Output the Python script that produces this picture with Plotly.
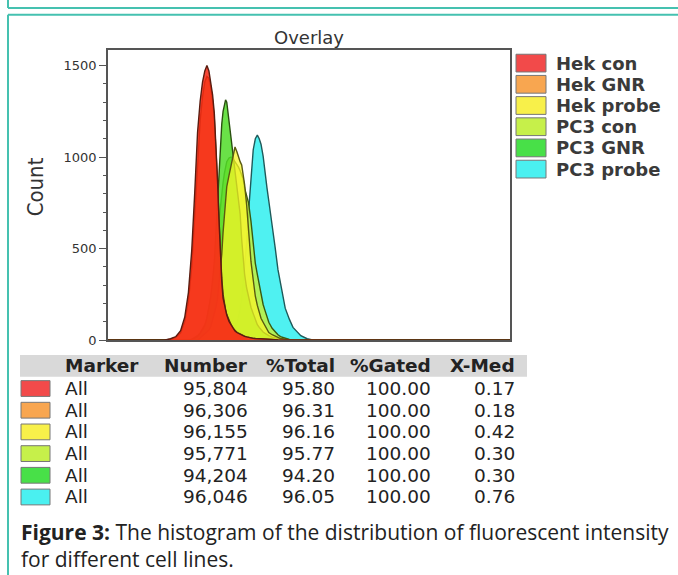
import plotly.graph_objects as go

# ---------------- data ----------------
intensity = [0.01, 0.05, 0.06, 0.07, 0.08, 0.09, 0.10, 0.11, 0.12, 0.13,
             0.14, 0.15, 0.16, 0.17, 0.18, 0.19, 0.20, 0.21, 0.22, 0.23,
             0.24, 0.25, 0.26, 0.27, 0.28, 0.29, 0.30, 0.32, 0.34, 0.36,
             0.38, 0.40, 0.42, 0.44, 0.46, 0.48, 0.50, 0.53, 0.56, 0.60,
             0.64, 0.68, 0.72, 0.76, 0.80, 0.85, 0.90, 0.95, 1.0, 1.1,
             1.2, 1.3, 1.4, 1.6, 1.8, 2.0, 2.5, 3.0, 3.5, 1000]

hek_con = [0, 0, 8, 20, 52, 125, 260, 490, 810, 1135,
           1305, 1410, 1470, 1500, 1470, 1405, 1340, 1240, 1090, 880,
           660, 440, 320, 230, 190, 160, 137, 103, 83, 64,
           50, 42, 37, 32, 28, 24, 21, 18, 15, 12,
           10, 9, 8, 7, 6, 6, 5, 4, 4, 3,
           3, 2, 2, 1, 0, 0, 0, 0, 0, 0]
hek_gnr = [0, 0, 5, 15, 40, 100, 210, 400, 680, 980,
           1200, 1330, 1410, 1440, 1430, 1380, 1310, 1210, 1060, 870,
           660, 460, 340, 250, 200, 165, 140, 105, 84, 66,
           52, 44, 38, 33, 29, 25, 22, 18, 15, 12,
           10, 9, 8, 7, 6, 6, 5, 4, 4, 3,
           3, 2, 2, 1, 0, 0, 0, 0, 0, 0]
hek_probe = [0, 0, 0, 0, 0, 0, 0, 0, 0, 0,
             12, 24, 35, 45, 55, 75, 110, 145, 180, 225,
             300, 370, 470, 590, 695, 770, 838, 900, 960, 1015,
             1055, 1030, 995, 975, 957, 900, 850, 740, 610, 430,
             330, 240, 190, 150, 120, 98, 75, 55, 42, 30,
             22, 14, 9, 5, 1, 0, 0, 0, 0, 0]
pc3_con = [0, 0, 0, 0, 0, 0, 0, 5, 15, 25,
           40, 60, 85, 120, 170, 230, 300, 380, 470, 560,
           650, 730, 800, 860, 910, 950, 975, 995, 1000, 990,
           975, 960, 945, 925, 905, 880, 830, 790, 750, 650,
           530, 420, 360, 300, 245, 195, 160, 125, 98, 65,
           45, 30, 20, 10, 4, 0, 0, 0, 0, 0]
pc3_gnr = [0, 0, 0, 0, 0, 0, 0, 4, 12, 19,
           36, 55, 78, 120, 175, 240, 330, 430, 590, 760,
           950, 1060, 1180, 1250, 1295, 1312, 1300, 1200, 1100, 1000,
           915, 830, 760, 690, 550, 430, 360, 285, 230, 180,
           145, 115, 85, 70, 58, 45, 37, 30, 25, 17,
           12, 9, 7, 3, 0, 0, 0, 0, 0, 0]
pc3_probe = [0, 0, 0, 0, 0, 0, 0, 0, 0, 0,
             0, 0, 0, 0, 0, 0, 0, 0, 0, 0,
             0, 0, 0, 0, 0, 0, 5, 20, 40, 60,
             75, 90, 130, 170, 230, 310, 380, 530, 700, 900,
             1040, 1100, 1120, 1100, 1070, 1005, 900, 830, 760, 640,
             505, 385, 305, 175, 115, 70, 25, 8, 2, 0]

series_names = ["Hek con", "Hek GNR", "Hek probe", "PC3 con", "PC3 GNR", "PC3 probe"]
markers = ["All", "All", "All", "All", "All", "All"]
numbers = ["95,804", "96,306", "96,155", "95,771", "94,204", "96,046"]
pct_total = ["95.80", "96.31", "96.16", "95.77", "94.20", "96.05"]
pct_gated = ["100.00", "100.00", "100.00", "100.00", "100.00", "100.00"]
x_med = ["0.17", "0.18", "0.42", "0.30", "0.30", "0.76"]
table_headers = ["Marker", "Number", "%Total", "%Gated", "X-Med"]
y_ticks = [0, 500, 1000, 1500]
caption = ("<b>Figure 3:</b> The histogram of the distribution of fluorescent intensity"
           "<br>for different cell lines.")

# ---------------- styles ----------------
swatch_colors = ["#f24a4a", "#f8a650", "#f8f04a", "#c6f04a", "#48e048", "#4af0f0"]
fill_colors = ["rgba(245,40,20,0.85)", "rgba(250,140,50,0.85)", "rgba(248,245,40,0.75)",
               "rgba(195,240,60,0.85)", "rgba(80,220,40,0.85)", "rgba(60,240,240,0.9)"]
line_colors = ["#5a1c10", "#6a4010", "#5a5a10", "#3a5a10", "#2a5010", "#1f5a5a"]

W, H = 678, 575
def px(x):
    return x / W
def py(y):
    return 1 - y / H

fig = go.Figure()
counts = [hek_con, hek_gnr, hek_probe, pc3_con, pc3_gnr, pc3_probe]
# back-to-front drawing order
for i in [5, 3, 4, 2, 1, 0]:
    fig.add_trace(go.Scatter(
        x=intensity, y=counts[i], name=series_names[i], mode="lines",
        fill="tozeroy", fillcolor=fill_colors[i],
        line=dict(color=line_colors[i], width=1.4),
        showlegend=False, hoverinfo="skip"))

shapes = []
annotations = []
teal = "#45c1b0"
# page frames
shapes.append(dict(type="line", xref="paper", yref="paper", x0=px(8), x1=px(700),
                   y0=py(8), y1=py(8), line=dict(color=teal, width=2)))
shapes.append(dict(type="line", xref="paper", yref="paper", x0=px(8), x1=px(8),
                   y0=py(0), y1=py(8), line=dict(color=teal, width=2)))
shapes.append(dict(type="line", xref="paper", yref="paper", x0=px(8), x1=px(700),
                   y0=py(15), y1=py(15), line=dict(color=teal, width=2)))
shapes.append(dict(type="line", xref="paper", yref="paper", x0=px(8), x1=px(8),
                   y0=py(15), y1=py(600), line=dict(color=teal, width=2)))

# title and axis label
annotations.append(dict(text="Overlay", xref="paper", yref="paper", x=px(309), y=py(38),
                        xanchor="center", yanchor="middle", showarrow=False,
                        font=dict(family="DejaVu Sans", size=18, color="#333")))
annotations.append(dict(text="Count", xref="paper", yref="paper", x=px(35), y=py(190),
                        xanchor="center", yanchor="middle", showarrow=False, textangle=-90,
                        font=dict(family="DejaVu Sans Condensed", size=22, color="#333")))

# legend
for i, name in enumerate(series_names):
    yc = 64 + i * 21.5
    shapes.append(dict(type="rect", xref="paper", yref="paper", x0=px(516), x1=px(546),
                       y0=py(yc - 9), y1=py(yc + 9), fillcolor=swatch_colors[i],
                       line=dict(color="#777", width=1)))
    annotations.append(dict(text=name, xref="paper", yref="paper", x=px(554), y=py(yc),
                            xanchor="left", yanchor="middle", showarrow=False,
                            font=dict(family="DejaVu Sans", size=18, color="#3a3a3a", weight="bold")))

# table
shapes.append(dict(type="rect", xref="paper", yref="paper", x0=px(20), x1=px(527),
                   y0=py(382), y1=py(360), fillcolor="#d9d9d9", line=dict(width=0)))
col_right = [None, 250, 337, 433, 517]
hdr_font = dict(family="DejaVu Sans", size=18.5, color="#222", weight="bold")
row_font = dict(family="DejaVu Sans", size=18.5, color="#222")
for j, h in enumerate(table_headers):
    if j == 0:
        annotations.append(dict(text=h, xref="paper", yref="paper", x=px(63), y=py(371),
                                xanchor="left", yanchor="middle", showarrow=False, font=hdr_font))
    else:
        annotations.append(dict(text=h, xref="paper", yref="paper", x=px(col_right[j]), y=py(371),
                                xanchor="right", yanchor="middle", showarrow=False, font=hdr_font))
row_cols = [numbers, pct_total, pct_gated, x_med]
for i in range(len(series_names)):
    yc = 394 + i * 22
    shapes.append(dict(type="rect", xref="paper", yref="paper", x0=px(21), x1=px(50),
                       y0=py(yc - 8), y1=py(yc + 8), fillcolor=swatch_colors[i],
                       line=dict(color="#777", width=1)))
    annotations.append(dict(text=markers[i], xref="paper", yref="paper", x=px(63), y=py(yc),
                            xanchor="left", yanchor="middle", showarrow=False, font=row_font))
    for j, col in enumerate(row_cols):
        annotations.append(dict(text=col[i], xref="paper", yref="paper", x=px(col_right[j + 1]), y=py(yc),
                                xanchor="right", yanchor="middle", showarrow=False, font=row_font))

# caption (single two-line text)
annotations.append(dict(text=caption, xref="paper", yref="paper", x=px(19), y=py(553),
                        xanchor="left", yanchor="middle", align="left", showarrow=False,
                        font=dict(family="Open Sans", size=21, color="#222")))

fig.update_layout(
    width=W, height=H, margin=dict(l=0, r=0, t=0, b=0),
    paper_bgcolor="white", plot_bgcolor="white", showlegend=False,
    shapes=shapes, annotations=annotations,
    xaxis=dict(type="log", range=[-2, 3], domain=[px(108), px(510)],
               showgrid=False, zeroline=False, showticklabels=False, ticks="",
               showline=True, linecolor="#555", linewidth=1.5, mirror=True),
    yaxis=dict(range=[0, 1583], domain=[py(345), py(51)], tickvals=y_ticks,
               ticks="outside", ticklen=7, tickwidth=1.2, tickcolor="#555",
               showline=True, linecolor="#555", linewidth=1.5, mirror=True,
               showgrid=False, zeroline=False,
               tickfont=dict(family="DejaVu Sans", size=13, color="#333"),
               minor=dict(dtick=100, tick0=0, ticks="outside", ticklen=3,
                          tickcolor="#555", showgrid=False)),
)

fig.write_html("out.html", config={"displayModeBar": False},
               post_script="document.body.style.margin='0';")
